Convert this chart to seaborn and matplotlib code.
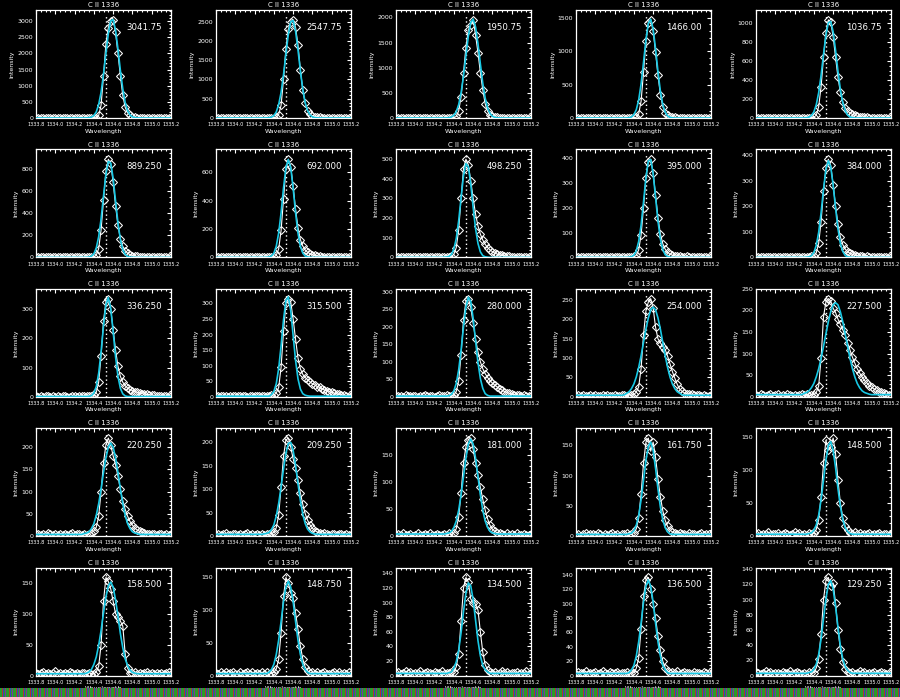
import numpy as np
import matplotlib
matplotlib.use("Agg")
import matplotlib.pyplot as plt
import seaborn as sns

# wavelength grid (Angstrom) shared by every spectrum
wave = np.round(np.arange(57) * 0.025 + 1333.8, 3)
rest_wave = 1334.53
line_name = 'C II 1336'

# observed intensity, one list per pixel (row by row, left to right)
obs01 = [2, 0, 3, 1, 0, 2, 4, 1, 0, 3, 2, 0, 1, 3, 2, 0, 2, 4, 1, 3,
         3, 5, 2, 4, 6, 12, 80, 400, 1300, 2300, 2800, 3000, 3041.75, 2650, 2000, 1300, 700, 330, 160, 80,
         40, 25, 15, 10, 8, 6, 5, 4, 3, 5, 2, 3, 4, 2, 1, 3, 2]
obs02 = [1, 3, 0, 2, 1, 0, 3, 2, 1, 0, 2, 1, 3, 0, 2, 1, 0, 3, 2, 4,
         4, 2, 6, 5, 10, 20, 90, 330, 1000, 1800, 2300, 2500, 2547.75, 2350, 1900, 1250, 720, 380, 190, 100,
         60, 38, 24, 16, 11, 8, 6, 5, 4, 3, 4, 2, 3, 1, 2, 3, 1]
obs03 = [2, 0, 1, 3, 2, 0, 1, 2, 4, 1, 0, 2, 3, 1, 0, 2, 1, 3, 2, 0,
         3, 4, 2, 6, 12, 30, 140, 420, 900, 1400, 1750, 1850, 1950.75, 1650, 1300, 900, 560, 280, 130, 65,
         35, 20, 12, 8, 6, 4, 5, 3, 2, 4, 1, 3, 2, 0, 2, 1, 3]
obs04 = [1, 2, 0, 3, 1, 2, 0, 1, 3, 2, 1, 0, 2, 1, 3, 0, 2, 1, 0, 3,
         2, 4, 3, 5, 8, 10, 60, 250, 680, 1150, 1420, 1466, 1300, 980, 640, 350, 170, 80, 40, 22,
         14, 9, 6, 5, 4, 3, 2, 4, 3, 1, 2, 3, 1, 2, 0, 2, 1]
obs05 = [2, 0, 1, 3, 0, 2, 1, 0, 2, 3, 1, 2, 0, 1, 3, 2, 0, 1, 2, 4,
         3, 2, 5, 4, 8, 30, 120, 330, 640, 900, 1036.75, 1010, 860, 640, 430, 270, 170, 110, 75, 52,
         38, 28, 20, 15, 11, 8, 6, 5, 4, 3, 4, 2, 3, 1, 2, 3, 1]
obs06 = [1, 2, 0, 1, 3, 1, 0, 2, 1, 0, 2, 1, 3, 0, 1, 2, 0, 3, 1, 2,
         2, 3, 1, 4, 5, 20, 80, 250, 520, 780, 889.25, 850, 680, 470, 290, 170, 100, 60, 38, 25,
         17, 12, 9, 7, 5, 4, 3, 4, 2, 3, 1, 2, 3, 1, 2, 0, 2]
obs07 = [2, 1, 0, 3, 1, 2, 0, 1, 2, 3, 0, 1, 2, 0, 3, 1, 2, 0, 1, 2,
         3, 1, 2, 4, 4, 15, 60, 190, 410, 620, 692, 640, 500, 340, 210, 125, 80, 52, 36, 26,
         19, 14, 10, 8, 6, 5, 4, 3, 4, 2, 3, 1, 2, 3, 1, 2, 1]
obs08 = [1, 3, 2, 0, 2, 1, 3, 0, 2, 1, 2, 0, 1, 3, 2, 1, 0, 2, 3, 1,
         2, 3, 4, 5, 15, 50, 140, 300, 450, 498.25, 470, 390, 300, 220, 160, 118, 88, 66, 50, 38,
         29, 22, 17, 13, 10, 8, 6, 5, 4, 3, 4, 2, 3, 2, 1, 3, 2]
obs09 = [2, 0, 1, 3, 2, 1, 0, 2, 1, 3, 1, 2, 0, 1, 3, 2, 1, 0, 2, 1,
         2, 1, 3, 2, 4, 8, 30, 90, 200, 320, 385, 395, 340, 250, 160, 95, 55, 33, 20, 13,
         9, 6, 4, 5, 3, 2, 4, 3, 1, 2, 3, 1, 2, 2, 0, 3, 1]
obs10 = [1, 3, 2, 0, 1, 2, 3, 1, 0, 2, 3, 1, 0, 2, 1, 3, 2, 0, 1, 2,
         3, 2, 1, 4, 6, 18, 55, 140, 260, 350, 384, 360, 285, 200, 130, 80, 50, 33, 22, 16,
         12, 9, 7, 5, 4, 3, 5, 2, 3, 1, 2, 3, 1, 2, 3, 1, 2]
obs11 = [2, 1, 3, 0, 2, 4, 1, 2, 0, 3, 1, 2, 4, 1, 0, 2, 3, 1, 2, 4,
         3, 2, 4, 3, 5, 15, 50, 140, 260, 325, 336.25, 300, 230, 160, 105, 70, 50, 38, 30, 25,
         21, 18, 15, 13, 11, 9, 8, 7, 6, 5, 4, 3, 4, 2, 3, 2, 3]
obs12 = [3, 1, 2, 4, 2, 0, 3, 2, 1, 4, 2, 3, 1, 0, 2, 4, 3, 1, 2, 3,
         3, 4, 2, 5, 6, 12, 30, 95, 210, 300, 315.5, 305, 250, 185, 125, 90, 72, 62, 55, 48,
         42, 38, 33, 30, 26, 22, 20, 17, 14, 12, 10, 8, 6, 5, 4, 3, 3]
obs13 = [2, 3, 1, 0, 4, 2, 3, 1, 2, 0, 3, 2, 4, 1, 2, 3, 0, 2, 4, 1,
         2, 4, 3, 2, 5, 15, 45, 120, 220, 272, 280, 255, 210, 165, 128, 100, 80, 66, 55, 46,
         39, 33, 28, 23, 19, 15, 12, 10, 8, 6, 5, 4, 3, 4, 2, 3, 2]
obs14 = [3, 5, 2, 4, 3, 1, 4, 2, 5, 3, 2, 4, 3, 5, 1, 3, 4, 2, 3, 5,
         4, 3, 5, 4, 6, 12, 26, 73, 160, 222, 245, 254, 230, 180, 150, 140, 130, 122, 105, 85,
         65, 48, 32, 20, 14, 10, 8, 7, 6, 5, 4, 5, 3, 4, 2, 3, 4]
obs15 = [5, 3, 6, 4, 2, 5, 7, 3, 4, 6, 2, 5, 3, 6, 4, 3, 5, 2, 4, 6,
         4, 6, 3, 5, 5, 10, 25, 90, 185, 220, 227.5, 222, 205, 195, 180, 168, 155, 143, 125, 108,
         92, 78, 65, 55, 46, 38, 32, 26, 22, 18, 15, 12, 10, 8, 6, 5, 4]
obs16 = [4, 6, 2, 5, 3, 7, 4, 2, 5, 3, 6, 3, 4, 2, 5, 7, 3, 4, 6, 2,
         5, 3, 6, 8, 12, 20, 45, 100, 165, 205, 220.25, 205, 180, 160, 135, 105, 80, 60, 45, 33,
         25, 18, 14, 11, 9, 7, 5, 6, 4, 5, 3, 6, 4, 2, 5, 3, 4]
obs17 = [3, 5, 2, 4, 6, 3, 2, 5, 4, 3, 5, 2, 4, 6, 3, 4, 2, 5, 3, 4,
         3, 5, 4, 6, 8, 18, 45, 105, 170, 205, 209.25, 190, 165, 145, 120, 92, 68, 48, 34, 24,
         17, 12, 9, 7, 5, 6, 4, 3, 5, 4, 2, 4, 5, 3, 4, 2, 3]
obs18 = [2, 4, 3, 5, 2, 3, 4, 1, 3, 5, 3, 2, 4, 3, 5, 2, 3, 4, 2, 3,
         4, 2, 5, 3, 6, 14, 35, 80, 135, 165, 178, 181, 160, 135, 112, 90, 68, 48, 32, 20,
         13, 9, 6, 5, 4, 3, 5, 2, 4, 3, 5, 2, 3, 4, 2, 3, 4]
obs19 = [2, 4, 1, 3, 5, 2, 3, 4, 2, 5, 3, 1, 4, 2, 3, 5, 2, 4, 1, 3,
         3, 5, 2, 4, 6, 12, 30, 70, 120, 155, 161.75, 140, 155, 130, 95, 65, 42, 26, 16, 10,
         7, 5, 4, 6, 3, 4, 2, 5, 3, 4, 2, 3, 5, 2, 4, 3, 2]
obs20 = [3, 5, 2, 4, 3, 6, 2, 4, 3, 5, 2, 4, 5, 3, 2, 4, 6, 3, 5, 2,
         4, 2, 5, 3, 5, 10, 25, 60, 110, 145, 130, 135, 148.5, 125, 85, 50, 28, 15, 9, 5,
         4, 6, 3, 5, 2, 4, 3, 5, 2, 4, 3, 5, 2, 4, 3, 2, 4]
obs21 = [5, 2, 4, 6, 3, 5, 2, 4, 7, 3, 4, 2, 5, 3, 6, 4, 2, 5, 3, 4,
         4, 2, 5, 3, 3, 6, 15, 50, 120, 158.5, 152, 140, 120, 100, 95, 88, 80, 35, 12, 5,
         4, 6, 3, 5, 2, 4, 6, 3, 5, 2, 4, 3, 5, 2, 4, 6, 3]
obs22 = [4, 2, 5, 3, 6, 2, 4, 5, 3, 2, 5, 3, 4, 6, 2, 5, 3, 4, 2, 5,
         3, 5, 2, 4, 5, 10, 25, 65, 120, 148.75, 140, 125, 118, 95, 70, 45, 25, 13, 7, 4,
         5, 3, 6, 2, 4, 5, 3, 2, 4, 6, 3, 5, 2, 4, 3, 5, 2]
obs23 = [3, 5, 2, 4, 6, 3, 5, 2, 4, 3, 6, 2, 4, 5, 3, 2, 5, 4, 3, 6,
         2, 4, 3, 5, 5, 12, 30, 75, 120, 134.5, 128, 105, 100, 98, 90, 60, 32, 15, 8, 5,
         3, 5, 2, 4, 6, 3, 5, 2, 4, 3, 5, 2, 4, 3, 6, 2, 4]
obs24 = [2, 5, 3, 4, 6, 2, 4, 3, 5, 2, 4, 6, 3, 2, 5, 4, 3, 5, 2, 4,
         3, 5, 2, 4, 4, 10, 25, 65, 110, 133, 136.5, 120, 100, 80, 55, 35, 20, 11, 6, 4,
         5, 3, 6, 2, 4, 5, 3, 4, 2, 5, 3, 4, 2, 5, 3, 4, 2]
obs25 = [5, 3, 2, 4, 6, 3, 5, 2, 4, 3, 2, 5, 4, 3, 6, 2, 4, 5, 3, 2,
         4, 2, 5, 3, 4, 10, 22, 55, 100, 125, 129.25, 118, 122, 95, 60, 35, 18, 9, 5, 3,
         5, 2, 4, 6, 3, 5, 2, 4, 3, 5, 2, 4, 5, 3, 2, 4, 3]

# single gaussian fits (cyan curves)
fit01 = [0, 0, 0, 0, 0, 0, 0, 0, 0, 0, 0, 0, 0, 0, 0, 0, 0, 0, 0, 1,
         2, 4, 10, 27, 75, 190, 420, 800, 1350, 2000, 2615, 3010, 3050, 2720, 2135, 1475, 900, 480, 230, 95,
         35, 12, 4, 1, 0, 0, 0, 0, 0, 0, 0, 0, 0, 0, 0, 0, 0]
fit02 = [0, 0, 0, 0, 0, 0, 0, 0, 0, 0, 0, 0, 0, 0, 0, 0, 0, 0, 0, 1,
         2, 3, 8, 22, 62, 158, 349, 664, 1120, 1660, 2170, 2498, 2532, 2258, 1772, 1224, 747, 398, 191, 79,
         29, 10, 3, 1, 0, 0, 0, 0, 0, 0, 0, 0, 0, 0, 0, 0, 0]
fit03 = [0, 0, 0, 0, 0, 0, 0, 0, 0, 0, 0, 0, 0, 0, 0, 0, 0, 0, 0, 0,
         1, 2, 6, 20, 53, 126, 266, 500, 833, 1235, 1623, 1897, 1966, 1808, 1478, 1072, 690, 394, 199, 90,
         35, 12, 4, 1, 0, 0, 0, 0, 0, 0, 0, 0, 0, 0, 0, 0, 0]
fit04 = [0, 0, 0, 0, 0, 0, 0, 0, 0, 0, 0, 0, 0, 0, 0, 0, 0, 0, 0, 0,
         0, 1, 4, 15, 49, 123, 268, 508, 829, 1165, 1412, 1476, 1330, 1035, 693, 401, 200, 86, 31, 10,
         3, 1, 0, 0, 0, 0, 0, 0, 0, 0, 0, 0, 0, 0, 0, 0, 0]
fit05 = [0, 0, 0, 0, 0, 0, 0, 0, 0, 0, 0, 0, 0, 0, 0, 0, 0, 0, 0, 0,
         1, 3, 9, 26, 64, 140, 267, 451, 670, 875, 1006, 1020, 910, 714, 493, 300, 161, 76, 31, 11,
         4, 1, 0, 0, 0, 0, 0, 0, 0, 0, 0, 0, 0, 0, 0, 0, 0]
fit06 = [0, 0, 0, 0, 0, 0, 0, 0, 0, 0, 0, 0, 0, 0, 0, 0, 0, 0, 0, 0,
         0, 1, 3, 11, 33, 85, 187, 349, 555, 752, 869, 855, 717, 512, 312, 162, 71, 27, 9, 3,
         1, 0, 0, 0, 0, 0, 0, 0, 0, 0, 0, 0, 0, 0, 0, 0, 0]
fit07 = [0, 0, 0, 0, 0, 0, 0, 0, 0, 0, 0, 0, 0, 0, 0, 0, 0, 0, 0, 0,
         0, 1, 3, 10, 30, 79, 172, 315, 488, 633, 690, 633, 488, 315, 172, 79, 30, 10, 3, 1,
         0, 0, 0, 0, 0, 0, 0, 0, 0, 0, 0, 0, 0, 0, 0, 0, 0]
fit08 = [0, 0, 0, 0, 0, 0, 0, 0, 0, 0, 0, 0, 0, 0, 0, 0, 0, 0, 0, 0,
         1, 2, 5, 15, 42, 96, 186, 303, 414, 476, 460, 373, 254, 146, 71, 28, 9, 3, 1, 0,
         0, 0, 0, 0, 0, 0, 0, 0, 0, 0, 0, 0, 0, 0, 0, 0, 0]
fit09 = [0, 0, 0, 0, 0, 0, 0, 0, 0, 0, 0, 0, 0, 0, 0, 0, 0, 0, 0, 0,
         0, 0, 1, 3, 9, 26, 64, 130, 222, 320, 388, 394, 337, 242, 146, 74, 32, 11, 4, 1,
         0, 0, 0, 0, 0, 0, 0, 0, 0, 0, 0, 0, 0, 0, 0, 0, 0]
fit10 = [0, 0, 0, 0, 0, 0, 0, 0, 0, 0, 0, 0, 0, 0, 0, 0, 0, 0, 0, 0,
         0, 1, 2, 7, 19, 47, 98, 175, 266, 343, 378, 354, 283, 193, 112, 55, 23, 8, 2, 1,
         0, 0, 0, 0, 0, 0, 0, 0, 0, 0, 0, 0, 0, 0, 0, 0, 0]
fit11 = [1, 1, 1, 1, 1, 1, 1, 1, 1, 1, 1, 1, 1, 1, 1, 1, 1, 1, 1, 1,
         1, 1, 2, 4, 13, 35, 81, 154, 242, 315, 340, 303, 224, 137, 70, 29, 10, 3, 1, 1,
         1, 1, 1, 1, 1, 1, 1, 1, 1, 1, 1, 1, 1, 1, 1, 1, 1]
fit12 = [2, 2, 2, 2, 2, 2, 2, 2, 2, 2, 2, 2, 2, 2, 2, 2, 2, 2, 2, 2,
         2, 2, 2, 7, 17, 42, 91, 164, 247, 309, 321, 277, 197, 117, 58, 25, 10, 5, 3, 2,
         2, 2, 2, 2, 2, 2, 2, 2, 2, 2, 2, 2, 2, 2, 2, 2, 2]
fit13 = [2, 2, 2, 2, 2, 2, 2, 2, 2, 2, 2, 2, 2, 2, 2, 2, 2, 2, 2, 2,
         2, 2, 3, 7, 17, 38, 77, 133, 199, 256, 284, 272, 224, 160, 98, 52, 24, 9, 4, 2,
         2, 2, 2, 2, 2, 2, 2, 2, 2, 2, 2, 2, 2, 2, 2, 2, 2]
fit14 = [4, 4, 4, 4, 4, 4, 4, 4, 4, 4, 4, 4, 4, 4, 4, 4, 4, 4, 4, 4,
         5, 9, 13, 21, 33, 51, 76, 106, 141, 175, 204, 225, 232, 225, 204, 175, 141, 106, 76, 51,
         33, 21, 13, 9, 5, 4, 4, 4, 4, 4, 4, 4, 4, 4, 4, 4, 4]
fit15 = [5, 5, 5, 5, 5, 5, 5, 5, 5, 5, 5, 5, 5, 5, 5, 5, 5, 5, 5, 5,
         8, 10, 14, 21, 31, 46, 65, 89, 117, 146, 174, 197, 213, 218, 213, 197, 174, 146, 117, 89,
         65, 46, 31, 21, 14, 10, 8, 6, 5, 5, 5, 5, 5, 5, 5, 5, 5]
fit16 = [4, 4, 4, 4, 4, 4, 4, 4, 4, 4, 4, 4, 4, 4, 4, 4, 4, 4, 4, 4,
         6, 7, 10, 17, 28, 47, 73, 106, 143, 176, 200, 209, 200, 176, 143, 106, 73, 47, 28, 17,
         10, 7, 6, 4, 4, 4, 4, 4, 4, 4, 4, 4, 4, 4, 4, 4, 4]
fit17 = [4, 4, 4, 4, 4, 4, 4, 4, 4, 4, 4, 4, 4, 4, 4, 4, 4, 4, 4, 4,
         5, 6, 8, 14, 24, 43, 70, 105, 143, 177, 198, 200, 183, 151, 112, 76, 47, 27, 15, 9,
         6, 5, 4, 4, 4, 4, 4, 4, 4, 4, 4, 4, 4, 4, 4, 4, 4]
fit18 = [4, 4, 4, 4, 4, 4, 4, 4, 4, 4, 4, 4, 4, 4, 4, 4, 4, 4, 4, 4,
         4, 5, 6, 9, 16, 28, 48, 76, 110, 144, 170, 179, 170, 144, 110, 76, 48, 28, 16, 9,
         6, 5, 4, 4, 4, 4, 4, 4, 4, 4, 4, 4, 4, 4, 4, 4, 4]
fit19 = [3, 3, 3, 3, 3, 3, 3, 3, 3, 3, 3, 3, 3, 3, 3, 3, 3, 3, 3, 3,
         3, 3, 4, 5, 9, 18, 34, 60, 92, 125, 148, 155, 141, 112, 78, 48, 27, 14, 7, 4,
         3, 3, 3, 3, 3, 3, 3, 3, 3, 3, 3, 3, 3, 3, 3, 3, 3]
fit20 = [3, 3, 3, 3, 3, 3, 3, 3, 3, 3, 3, 3, 3, 3, 3, 3, 3, 3, 3, 3,
         3, 3, 4, 5, 9, 17, 32, 55, 85, 115, 137, 143, 130, 104, 72, 45, 25, 13, 7, 4,
         3, 3, 3, 3, 3, 3, 3, 3, 3, 3, 3, 3, 3, 3, 3, 3, 3]
fit21 = [3, 3, 3, 3, 3, 3, 3, 3, 3, 3, 3, 3, 3, 3, 3, 3, 3, 3, 3, 3,
         3, 4, 6, 10, 18, 30, 49, 73, 101, 127, 145, 151, 143, 122, 96, 68, 45, 27, 16, 9,
         5, 4, 3, 3, 3, 3, 3, 3, 3, 3, 3, 3, 3, 3, 3, 3, 3]
fit22 = [3, 3, 3, 3, 3, 3, 3, 3, 3, 3, 3, 3, 3, 3, 3, 3, 3, 3, 3, 3,
         3, 3, 5, 9, 17, 32, 54, 82, 112, 134, 143, 134, 112, 82, 54, 32, 17, 9, 5, 3,
         3, 3, 3, 3, 3, 3, 3, 3, 3, 3, 3, 3, 3, 3, 3, 3, 3]
fit23 = [3, 3, 3, 3, 3, 3, 3, 3, 3, 3, 3, 3, 3, 3, 3, 3, 3, 3, 3, 3,
         3, 3, 4, 5, 10, 19, 35, 59, 88, 113, 127, 123, 104, 76, 48, 27, 14, 8, 5, 3,
         3, 3, 3, 3, 3, 3, 3, 3, 3, 3, 3, 3, 3, 3, 3, 3, 3]
fit24 = [3, 3, 3, 3, 3, 3, 3, 3, 3, 3, 3, 3, 3, 3, 3, 3, 3, 3, 3, 3,
         3, 3, 4, 8, 14, 27, 47, 73, 102, 124, 133, 124, 102, 73, 47, 27, 14, 8, 4, 3,
         3, 3, 3, 3, 3, 3, 3, 3, 3, 3, 3, 3, 3, 3, 3, 3, 3]
fit25 = [3, 3, 3, 3, 3, 3, 3, 3, 3, 3, 3, 3, 3, 3, 3, 3, 3, 3, 3, 3,
         3, 3, 4, 5, 8, 15, 28, 48, 75, 101, 120, 125, 114, 91, 64, 39, 22, 12, 7, 4,
         3, 3, 3, 3, 3, 3, 3, 3, 3, 3, 3, 3, 3, 3, 3, 3, 3]

peak_labels = ['3041.75', '2547.75', '1950.75', '1466.00', '1036.75',
               '889.250', '692.000', '498.250', '395.000', '384.000',
               '336.250', '315.500', '280.000', '254.000', '227.500',
               '220.250', '209.250', '181.000', '161.750', '148.500',
               '158.500', '148.750', '134.500', '136.500', '129.250']
y_steps = [500, 500, 500, 500, 200,
           200, 200, 100, 100, 100,
           100, 50, 50, 50, 50,
           50, 50, 50, 50, 50,
           50, 50, 20, 20, 20]
x_ticks = [1333.8, 1334.0, 1334.2, 1334.4, 1334.6, 1334.8, 1335.0, 1335.2]

observed = [obs01, obs02, obs03, obs04, obs05, obs06, obs07, obs08, obs09, obs10,
            obs11, obs12, obs13, obs14, obs15, obs16, obs17, obs18, obs19, obs20,
            obs21, obs22, obs23, obs24, obs25]
fits = [fit01, fit02, fit03, fit04, fit05, fit06, fit07, fit08, fit09, fit10,
        fit11, fit12, fit13, fit14, fit15, fit16, fit17, fit18, fit19, fit20,
        fit21, fit22, fit23, fit24, fit25]
for s in observed + fits:
    assert len(s) == len(wave), len(s)

sns.set_style('dark')
plt.rcParams['font.family'] = ['DejaVu Sans']
plt.rcParams['axes.linewidth'] = 0.9

W, H = 900, 697
fig = plt.figure(figsize=(9, 6.97), dpi=100, facecolor='black')
cell_w, cell_h = 180, 139.4
cyan = '#18c8e4'

for k in range(25):
    r, c = divmod(k, 5)
    left = (c * cell_w + 36) / W
    bottom = 1 - (r * cell_h + 118) / H
    ax = fig.add_axes([left, bottom, 135 / W, 108 / H], facecolor='black')

    y_obs = np.array(observed[k], dtype=float)
    ymax = 1.1 * y_obs.max()

    sns.lineplot(x=wave, y=y_obs, ax=ax, color='white', lw=0.8, marker='D', markersize=4.4,
                 markerfacecolor='none', markeredgecolor='white', markeredgewidth=0.75,
                 estimator=None, sort=False, zorder=2)
    sns.lineplot(x=wave, y=fits[k], ax=ax, color=cyan, lw=1.2, estimator=None, sort=False, zorder=3)
    ax.vlines(rest_wave, 0, 1.05 * y_obs.max(), colors='white', linestyles=(0, (1, 2)), lw=1.0, zorder=1)

    ax.set_xlim(x_ticks[0], x_ticks[-1])
    ax.set_ylim(0, ymax)
    ax.set_xticks(x_ticks)
    ax.set_xticklabels([f'{t:.1f}' for t in x_ticks])
    step = y_steps[k]
    ax.set_yticks(np.arange(0, ymax, step))
    ax.set_yticklabels([f'{int(t)}' for t in np.arange(0, ymax, step)])
    ax.xaxis.set_minor_locator(matplotlib.ticker.AutoMinorLocator(4))
    nminor = 4 if str(step)[0] == '2' else 5
    ax.yaxis.set_minor_locator(matplotlib.ticker.AutoMinorLocator(nminor))
    ax.tick_params(which='both', direction='in', top=True, right=True, colors='white',
                   labelcolor='white', width=0.8)
    ax.tick_params(which='major', length=3, labelsize=4.5, pad=2)
    ax.tick_params(which='minor', length=1.6)
    ax.tick_params(axis='x', which='major', pad=3, labelsize=3.6)
    ax.grid(False)
    for sp in ax.spines.values():
        sp.set_color('white')
        sp.set_visible(True)

    ax.set_title(line_name, color='white', fontsize=5, pad=2)
    ax.set_xlabel('Wavelength', color='white', fontsize=4.5, labelpad=1)
    ax.set_ylabel('Intensity', color='white', fontsize=4.5, labelpad=2)
    ax.text(0.67, 0.84, peak_labels[k], transform=ax.transAxes, color='white',
            fontsize=6.2, ha='left', va='center')

# colour strip along the bottom edge
strip_colors = ['#2a9c2a', '#2a9c2a', '#b03a2a', '#3048b8', '#2a9c2a', '#7a34a0', '#2a9c2a']
pattern = np.array([matplotlib.colors.to_rgb(col) for col in strip_colors])
stripe = np.tile(pattern, (140, 1))[:W][None, :, :]
sax = fig.add_axes([0, 0, 1, 9 / H])
sax.imshow(stripe, aspect='auto', interpolation='nearest')
sax.set_axis_off()

fig.savefig('out.png', dpi=100, facecolor='black')
